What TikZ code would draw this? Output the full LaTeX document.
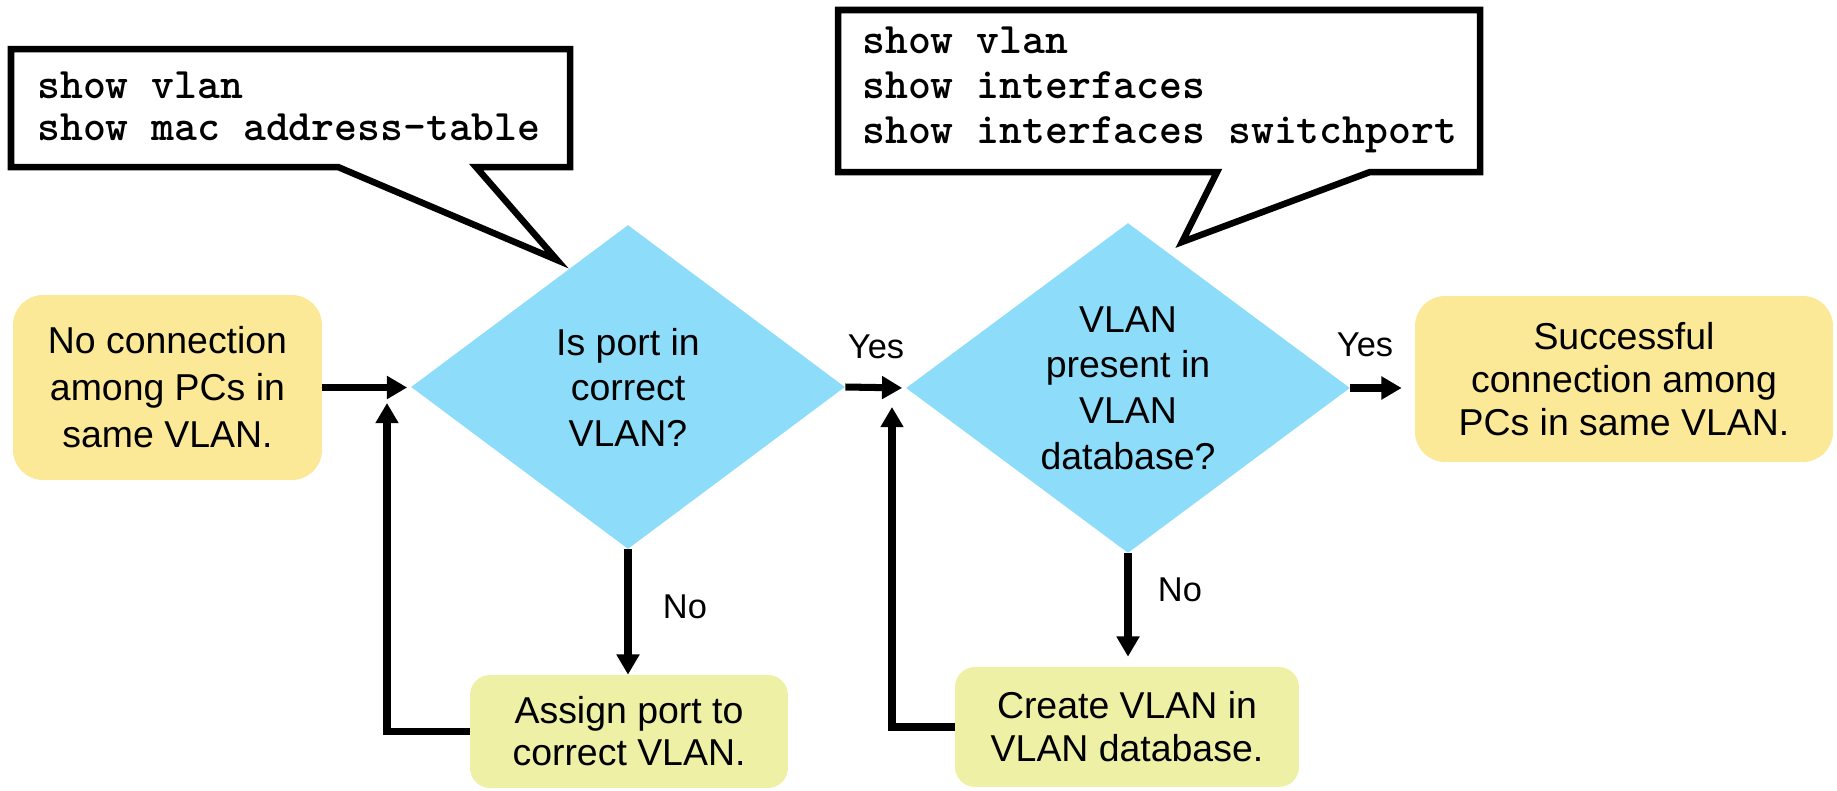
\documentclass[tikz,border=0pt]{standalone}
\usepackage{fontspec}
\setmainfont{Liberation Sans}
\usetikzlibrary{shapes.geometric,arrows.meta}

\definecolor{termfill}{RGB}{251,233,151}
\definecolor{procfill}{RGB}{238,240,166}
\definecolor{decfill}{RGB}{141,221,250}

\begin{document}
\begin{tikzpicture}[x=0.02cm,y=-0.02cm,
  txt/.style={font=\fontsize{21.3}{#1}\selectfont, align=center, inner sep=0pt},
  txt/.default=26,
  termbox/.style={txt=#1, fill=termfill, rounded corners=0.6cm},
  termbox/.default=26,
  procbox/.style={txt=#1, fill=procfill, rounded corners=0.4cm},
  procbox/.default=24,
  decision/.style={txt=#1, diamond, fill=decfill, shape aspect=1.33},
  decision/.default=26,
  flow/.style={line width=4pt, -{Triangle[length=11.5pt,width=12.5pt]}},
  tag/.style={font=\fontsize{19.6}{22}\selectfont, inner sep=0pt},
  callout/.style={line width=3.7pt, fill=white},
  cmd/.style={font=\ttfamily\bfseries\fontsize{24.8}{#1}\selectfont, align=left, inner sep=0pt, anchor=west},
  cmd/.default=24
]
\useasboundingbox (0,0) rectangle (1837,791);

% speech bubbles with the show commands
\draw[callout] (11,49) -- (570,49) -- (570,167) -- (476,167) -- (557,260)
  -- (338,167) -- (11,167) -- cycle;
\node[cmd=23.9] (cmdsA) at (37,106) {show vlan\\show mac address-table};

\draw[callout] (838,10) -- (1480,10) -- (1480,172) -- (1370,172) -- (1182,242)
  -- (1217,172) -- (838,172) -- cycle;
\node[cmd=25.6] (cmdsB) at (862,90) {show vlan\\show interfaces\\show interfaces switchport};

% flowchart nodes
\node[termbox=26.7, minimum width=6.18cm, minimum height=3.7cm] (start) at (167.5,387.5)
  {No connection\\among PCs in\\same VLAN.};
\node[decision=25.9, minimum width=8.68cm, minimum height=6.48cm] (d1) at (628,387)
  {Is port in\\correct\\VLAN?};
\node[decision=26, minimum width=8.88cm, minimum height=6.6cm] (d2) at (1128,388)
  {VLAN\\present in\\VLAN\\database?};
\node[termbox=24.5, minimum width=8.36cm, minimum height=3.32cm] (done) at (1624,379)
  {Successful\\connection among\\PCs in same VLAN.};
\node[procbox=24, minimum width=6.36cm, minimum height=2.26cm] (assign) at (629,731.5)
  {Assign port to\\correct VLAN.};
\node[procbox=24.5, minimum width=6.88cm, minimum height=2.4cm] (create) at (1127,727)
  {Create VLAN in\\VLAN database.};

% branch labels
\node[tag] (yes1) at (876,347) {Yes};
\node[tag] (yes2) at (1365,345) {Yes};
\node[tag] (no1) at (685,607) {No};
\node[tag] (no2) at (1180,590) {No};

% junction points where the loops rejoin
\coordinate (m1) at (387,387);
\coordinate (m2) at (892,388);

% connectors
\draw[flow, shorten >=2pt] (start.east) -- (start.east -| d1.west);
\draw[flow, shorten >=2pt] (d1.east) -- (d2.west);
\draw[flow, shorten >=0.26cm] (d2.east) -- (d2.east -| done.west);
\draw[flow] (d1.south) -- (d1.south |- assign.north);
\draw[flow, shorten >=0.2cm] (d2.south) -- (d2.south |- create.north);
\draw[flow, shorten >=0.32cm] (assign.west) -| (m1);
\draw[flow, shorten >=0.38cm] (create.west) -| (m2);
\end{tikzpicture}
\end{document}
